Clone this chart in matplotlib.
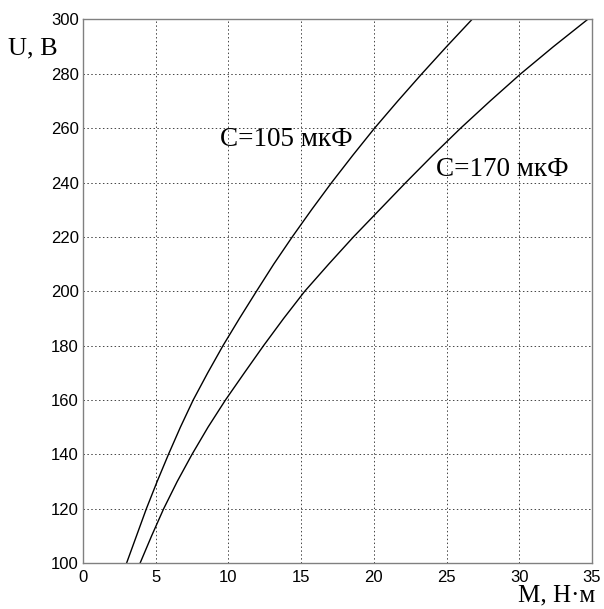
import matplotlib.pyplot as plt

U = [100, 110, 120, 130, 140, 150, 160, 170, 180, 190, 200,
     210, 220, 230, 240, 250, 260, 270, 280, 290, 300]
M_105 = [3.0, 3.68, 4.36, 5.1, 5.88, 6.7, 7.58, 8.58, 9.63, 10.76, 11.93,
         13.12, 14.39, 15.72, 17.1, 18.55, 20.05, 21.65, 23.3, 25.0, 26.75]
M_170 = [3.93, 4.72, 5.55, 6.48, 7.5, 8.6, 9.8, 11.1, 12.42, 13.8, 15.25,
         16.9, 18.6, 20.4, 22.2, 24.05, 25.97, 28.0, 30.1, 32.35, 34.7]

xticks = [0, 5, 10, 15, 20, 25, 30, 35]
yticks = [100, 120, 140, 160, 180, 200, 220, 240, 260, 280, 300]

plt.rcParams['font.family'] = ['Liberation Sans', 'DejaVu Sans']
serif = ['Liberation Serif', 'DejaVu Serif']

fig = plt.figure(figsize=(6.04, 6.09), dpi=100)
ax = fig.add_axes([0.1374, 0.0755, 0.8426, 0.8925])

ax.plot(M_105, U, color='black', lw=1.0)
ax.plot(M_170, U, color='black', lw=1.0)

ax.set_xlim(0, 35)
ax.set_ylim(100, 300)
ax.set_xticks(xticks)
ax.set_yticks(yticks)
ax.tick_params(direction='in', length=0, labelsize=12, pad=3)
ax.tick_params(axis='x', pad=5)
ax.grid(True, color='#444444', linestyle=(0, (1.5, 2.5)), linewidth=0.7)
for s in ax.spines.values():
    s.set_color('#808080')
    s.set_linewidth(1.0)

ax.text(9.4, 255.8, 'C=105 мкФ', family=serif, fontsize=19.5, va='center', ha='left')
ax.text(24.3, 244.7, 'C=170 мкФ', family=serif, fontsize=19.5, va='center', ha='left')

fig.text(8 / 604, 1 - 48 / 609, 'U, В', family=serif, fontsize=19, va='center', ha='left')
fig.text(595 / 604, 1 - 595 / 609, 'M, Н·м', family=serif, fontsize=18, va='center', ha='right')

fig.savefig('out.png', dpi=100, facecolor='white')
